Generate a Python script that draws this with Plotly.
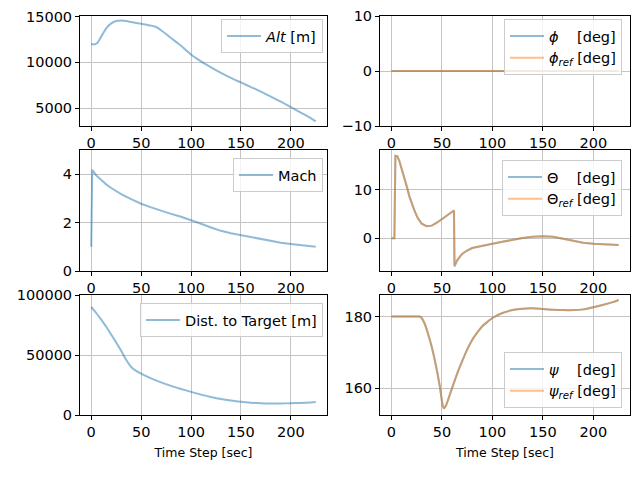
import plotly.graph_objects as go

# missile states over time
t_alt = [0, 3, 6, 10, 15, 20, 25, 30, 35, 40, 50, 60, 65, 70, 80, 90, 100, 110, 120,
         130, 140, 150, 160, 170, 180, 190, 200, 210, 220, 225]
alt = [12000, 11950, 12100, 12800, 13700, 14250, 14500, 14550, 14500, 14400, 14200,
       14000, 13850, 13500, 12650, 11800, 10850, 10100, 9450, 8850, 8300, 7800, 7300,
       6800, 6250, 5700, 5100, 4500, 3900, 3550]

t_phi = [0, 225]
phi = [0, 0]
phi_ref = [0, 0]

t_mach = [0, 1, 5, 10, 15, 20, 30, 40, 50, 60, 70, 80, 90, 100, 110, 120, 130, 140,
          150, 160, 170, 180, 190, 200, 210, 220, 225]
mach = [1.0, 4.18, 3.95, 3.75, 3.58, 3.43, 3.18, 2.97, 2.78, 2.63, 2.48, 2.36, 2.24,
        2.11, 1.95, 1.80, 1.66, 1.56, 1.48, 1.38, 1.30, 1.23, 1.17, 1.12, 1.07, 1.02, 1.00]

t_theta = [0, 3, 4, 6, 8, 10, 12, 15, 18, 20, 23, 26, 30, 35, 40, 45, 50, 55, 60, 62,
           62.5, 65, 70, 75, 80, 90, 100, 110, 120, 130, 140, 150, 160, 170, 180, 190,
           200, 210, 220, 225]
theta = [0, 0, 16.9, 16.8, 15.8, 14.5, 13.1, 10.8, 8.5, 7.2, 5.6, 4.2, 3.0, 2.5, 2.6,
         3.2, 3.9, 4.6, 5.4, 5.7, -5.8, -4.6, -3.2, -2.5, -2.0, -1.5, -1.1, -0.7, -0.3,
         0.05, 0.3, 0.4, 0.3, -0.1, -0.5, -0.9, -1.1, -1.2, -1.3, -1.35]
theta_ref = [0, 0, 16.9, 16.8, 15.8, 14.5, 13.1, 10.8, 8.5, 7.2, 5.6, 4.2, 3.0, 2.5, 2.6,
             3.2, 3.9, 4.6, 5.4, 5.7, -5.5, -4.5, -3.2, -2.5, -2.0, -1.5, -1.1, -0.7, -0.3,
             0.05, 0.3, 0.4, 0.3, -0.1, -0.5, -0.9, -1.1, -1.2, -1.3, -1.35]

t_dist = [0, 5, 10, 15, 20, 25, 30, 35, 40, 45, 50, 60, 70, 80, 90, 100, 110, 120, 130,
          140, 150, 160, 170, 180, 190, 200, 210, 220, 225]
dist = [90000, 85000, 79500, 73500, 67000, 60500, 53500, 46000, 40000, 36800, 34500,
        30500, 27200, 24300, 21700, 19300, 17000, 15000, 13300, 12000, 11000, 10300,
        9800, 9600, 9600, 9800, 10100, 10500, 10800]

t_psi = [0, 10, 20, 28, 30, 33, 36, 40, 44, 48, 51, 52, 54, 57, 60, 65, 70, 75, 80, 85,
         90, 95, 100, 110, 120, 130, 140, 150, 160, 170, 180, 190, 200, 210, 220, 225]
psi = [180, 180, 180, 180, 179.6, 178, 175.5, 171.5, 166.5, 160.5, 155, 154.5, 155.2,
       157.5, 160, 164, 167.5, 170.8, 173.5, 175.5, 177.3, 178.5, 179.6, 181, 181.8,
       182.2, 182.3, 182.1, 181.9, 181.8, 181.8, 182, 182.6, 183.3, 184.1, 184.6]
psi_ref = psi

x_ticks = [0, 50, 100, 150, 200]

BLUE = 'rgba(31,119,180,0.5)'
ORANGE = 'rgba(255,127,14,0.5)'
FONT = 'DejaVu Sans'
FS = 14.5
NB = '\u00a0'

# the page puts the figure 8px in from the window corner
OFF = 8
W, H = 640 - OFF, 494 - OFF


def px_x(p):
    return min(1, max(0, (p - OFF) / W))


def px_y(p):
    return min(1, max(0, 1 - (p - OFF) / H))


fig = go.Figure()


def add(x, y, name, color, n, shape='linear'):
    fig.add_trace(go.Scatter(x=x, y=y, mode='lines', name=name, showlegend=True,
                             line=dict(color=color, width=2, shape=shape, smoothing=0.6),
                             xaxis=f'x{n}', yaxis=f'y{n}',
                             legend='legend' if n == 1 else f'legend{n}'))


add(t_alt, alt, '<i>Alt</i> [m]', BLUE, 1, 'spline')
add(t_phi, phi, f'<i>ϕ</i>{NB*4}[deg]', BLUE, 2)
add(t_phi, phi_ref, '<i>ϕ<sub>ref</sub></i> [deg]', ORANGE, 2)
add(t_mach, mach, 'Mach', BLUE, 3)
add(t_theta, theta, f'Θ{NB*4}[deg]', BLUE, 4)
add(t_theta, theta_ref, 'Θ<sub><i>ref</i></sub> [deg]', ORANGE, 4)
add(t_dist, dist, 'Dist. to Target [m]', BLUE, 5, 'spline')
add(t_psi, psi, f'<i>ψ</i>{NB*4}[deg]', BLUE, 6, 'spline')
add(t_psi, psi_ref, '<i>ψ<sub>ref</sub></i> [deg]', ORANGE, 6, 'spline')

cols = [[px_x(80), px_x(327)], [px_x(380), px_x(630)]]
rows = [[px_y(126), px_y(16)], [px_y(271), px_y(150)], [px_y(415), px_y(295)]]

y_setup = {
    1: dict(range=[3050, 15050], tickvals=[5000, 10000, 15000]),
    2: dict(range=[-10, 10], tickvals=[-10, 0, 10]),
    3: dict(range=[0, 5], tickvals=[0, 2, 4]),
    4: dict(range=[-6.7, 18.1], tickvals=[0, 10]),
    5: dict(range=[0, 100000], tickvals=[0, 50000, 100000]),
    6: dict(range=[152.6, 186], tickvals=[160, 180]),
}

common = dict(showline=True, linecolor='black', linewidth=1, mirror=True,
              ticks='outside', ticklen=4, tickcolor='black', automargin=False,
              ticklabeloverflow='allow',
              showgrid=True, gridcolor='#c4c4c4', gridwidth=1, zeroline=False,
              tickfont=dict(family=FONT, size=FS, color='black'))

layout = {}
for n in range(1, 7):
    r, c = (n - 1) // 2, (n - 1) % 2
    xa = dict(common, domain=cols[c], anchor=f'y{n}', range=[-11.25, 236.25],
              tickvals=x_ticks)
    if r == 2:
        xa['title'] = dict(text='Time Step [sec]', standoff=8,
                           font=dict(family=FONT, size=12.5, color='black'))
    ya = dict(common, domain=rows[r], anchor=f'x{n}', tickformat='d', **y_setup[n])
    layout[f'xaxis{n}'] = xa
    layout[f'yaxis{n}'] = ya

leg = dict(bgcolor='rgba(255,255,255,0.8)', bordercolor='#cccccc', borderwidth=1,
           font=dict(family=FONT, size=FS, color='black'), itemwidth=34,
           xanchor='right', yanchor='top', tracegroupgap=0, visible=True)
layout['legend'] = dict(leg, x=px_x(323), y=px_y(19))
layout['legend2'] = dict(leg, x=px_x(622), y=px_y(19))
layout['legend3'] = dict(leg, x=px_x(323), y=px_y(158))
layout['legend4'] = dict(leg, x=px_x(622), y=px_y(160))
layout['legend5'] = dict(leg, x=px_x(323), y=px_y(303))
layout['legend6'] = dict(leg, x=px_x(622), y=px_y(408), yanchor='bottom')

fig.update_layout(**layout)
fig.update_layout(width=W, height=H, autosize=False, showlegend=True,
                  margin=dict(l=0, r=0, t=0, b=0, autoexpand=False),
                  paper_bgcolor='white', plot_bgcolor='white',
                  font=dict(family=FONT, size=FS, color='black'))

fig.write_html("out.html")
